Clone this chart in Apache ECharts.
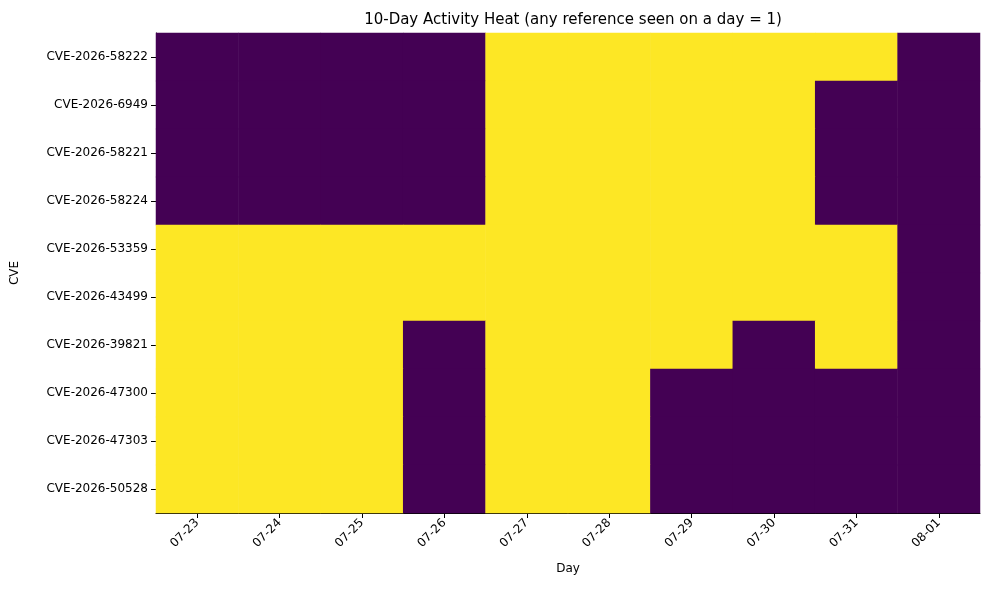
<!DOCTYPE html>
<html><head><meta charset="utf-8">
<script src="https://cdn.jsdelivr.net/npm/echarts@6/dist/echarts.min.js"></script>
<style>html,body{margin:0;padding:0;background:#fff}#c{width:990px;height:590px}</style>
</head><body><div id="c"></div>
<script>
const days = ["07-23","07-24","07-25","07-26","07-27","07-28","07-29","07-30","07-31","08-01"];
const cves = ["CVE-2026-58222","CVE-2026-6949","CVE-2026-58221","CVE-2026-58224","CVE-2026-53359","CVE-2026-43499","CVE-2026-39821","CVE-2026-47300","CVE-2026-47303","CVE-2026-50528"];
const activity = [
  [0,0,0,0,1,1,1,1,1,0],
  [0,0,0,0,1,1,1,1,0,0],
  [0,0,0,0,1,1,1,1,0,0],
  [0,0,0,0,1,1,1,1,0,0],
  [1,1,1,1,1,1,1,1,1,0],
  [1,1,1,1,1,1,1,1,1,0],
  [1,1,1,0,1,1,1,0,1,0],
  [1,1,1,0,1,1,0,0,0,0],
  [1,1,1,0,1,1,0,0,0,0],
  [1,1,1,0,1,1,0,0,0,0]
];
const data = [];
activity.forEach((row, r) => row.forEach((v, c) => data.push([c, r, v])));
const font = "DejaVu Sans";
const chart = echarts.init(document.getElementById('c'));
chart.setOption({
  animation: false,
  title: {text: "10-Day Activity Heat (any reference seen on a day = 1)", left: 568, top: 8, textAlign: 'center',
    textStyle: {fontFamily: font, fontSize: 15, fontWeight: 'normal', color: '#000'}},
  grid: {left: 156, right: 10, top: 33, bottom: 77},
  xAxis: {type: 'category', data: days, name: 'Day', nameLocation: 'middle', nameGap: 50,
    nameTextStyle: {fontFamily: font, fontSize: 12, color: '#000'},
    axisLine: {show: true, lineStyle: {color: '#000'}},
    axisTick: {show: true, alignWithLabel: true, lineStyle: {color: '#000'}},
    axisLabel: {rotate: 45, fontFamily: font, fontSize: 12, color: '#000', margin: 8},
    splitLine: {show: false}},
  yAxis: {type: 'category', data: cves, inverse: true, name: 'CVE', nameLocation: 'middle', nameGap: 135,
    nameTextStyle: {fontFamily: font, fontSize: 12, color: '#000'},
    axisLine: {show: true, lineStyle: {color: '#000'}},
    axisTick: {show: true, alignWithLabel: true, lineStyle: {color: '#000'}},
    axisLabel: {fontFamily: font, fontSize: 12, color: '#000'},
    splitLine: {show: false}},
  visualMap: {show: false, type: 'piecewise', dimension: 2,
    pieces: [{value: 0, color: '#440154'}, {value: 1, color: '#fde725'}]},
  series: [{type: 'heatmap', data: data, itemStyle: {borderWidth: 0}}]
});
</script></body></html>
